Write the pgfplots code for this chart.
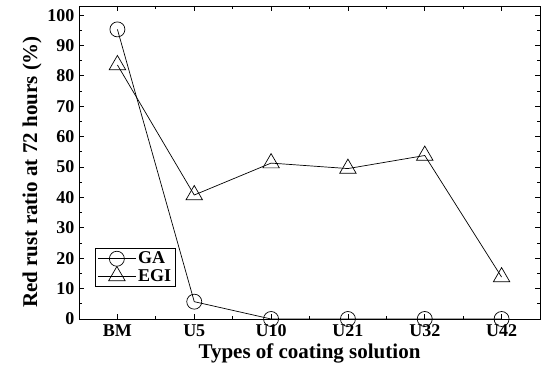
\documentclass[border=0pt]{standalone}
\usepackage{fontspec}
\setmainfont{Liberation Serif}
\usepackage{pgfplots}
\pgfplotsset{compat=1.18}
\begin{document}
\begin{tikzpicture}
\begin{axis}[
  name=ax,
  scale only axis,
  width=461pt, height=313pt,
  xmin=-0.5, xmax=5.5,
  ymin=0, ymax=103,
  xtick={0,1,2,3,4,5},
  xticklabels={BM,U5,U10,U21,U32,U42},
  minor xtick={0.5,1.5,2.5,3.5,4.5},
  ytick={0,10,...,100},
  minor ytick={5,15,...,95},
  tick align=inside,
  major tick length=5pt,
  minor tick length=3pt,
  tick style={black, line width=0.8pt},
  axis line style={line width=0.8pt},
  /pgf/number format/assume math mode=true,
  xticklabel style={font=\fontsize{18}{20}\selectfont\bfseries, yshift=-2pt},
  yticklabel style={font=\fontsize{18}{20}\selectfont\bfseries, xshift=-1pt},
  yticklabel={\pgfmathprintnumber[assume math mode=true]{\tick}},
  xlabel={Types of coating solution},
  ylabel={Red rust ratio at 72 hours (\%)},
  label style={font=\fontsize{21}{23}\selectfont\bfseries},
  ylabel style={at={(ticklabel cs:0.47)}, yshift=-1pt},
  legend style={at={(0.035,0.102)}, anchor=south west, draw=black, line width=0.8pt,
    font=\fontsize{18}{20}\selectfont\bfseries, inner sep=2pt, row sep=-1pt},
  legend cell align=left,
  legend image code/.code={%
    \draw[mark repeat=2, mark phase=2] plot coordinates {(0pt,0pt) (19pt,0pt) (38pt,0pt)};},
]
\addplot[black, line width=0.7pt, mark=o, mark size=7.5pt, mark options={fill=white, line width=0.7pt}]
  coordinates {(0,95.3) (1,5.7) (2,0) (3,0) (4,0) (5,0)};
\addlegendentry{GA}
\addplot[black, line width=0.7pt, mark=triangle, mark size=9.5pt, mark options={fill=white, line width=0.7pt}]
  coordinates {(0,83.6) (1,40.8) (2,51.3) (3,49.5) (4,53.8) (5,13.8)};
\addlegendentry{EGI}
\end{axis}
\pgfresetboundingbox
\path ([shift={(-79pt,-57pt)}]ax.south west) rectangle ([shift={(1pt,6pt)}]ax.north east);
\end{tikzpicture}
\end{document}
